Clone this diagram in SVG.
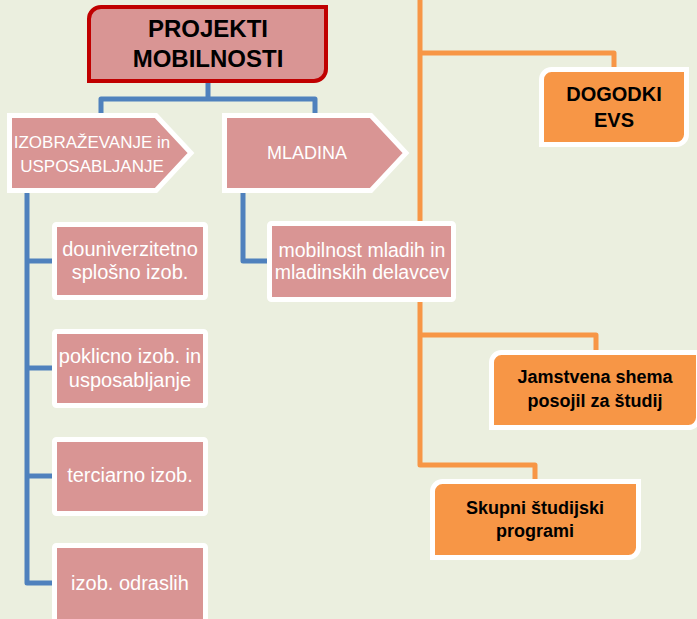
<svg xmlns="http://www.w3.org/2000/svg" width="697" height="619" viewBox="0 0 697 619">
<style>
.bg{fill:#EBEFDF}
.blue{fill:none;stroke:#4F81BD;stroke-width:5;stroke-linejoin:round}
.orange{fill:none;stroke:#F79646;stroke-width:5;stroke-linejoin:round}
.pink{fill:#D99594;stroke:#FFFFFF;stroke-width:5}
.onode{fill:#F79646;stroke:#FFFFFF;stroke-width:5}
.main{fill:#D99594;stroke:#C00000;stroke-width:4}
.wt{font-family:"Liberation Sans",Arial,sans-serif;fill:#FFFFFF;text-anchor:middle}
.bt{font-family:"Liberation Sans",Arial,sans-serif;fill:#000000;font-weight:bold;text-anchor:middle}
</style>
<rect class="bg" x="0" y="0" width="697" height="619"/>
<g id="connectors">
<path class="orange" d="M420,0 V465 H535 V481"/>
<path class="orange" d="M420,53 H614 V69"/>
<path class="orange" d="M420,335 H596 V352"/>
<path class="blue" d="M208,83 V99"/>
<path class="blue" d="M101,113 V99 H315 V113"/>
<path class="blue" d="M27,193 V583 H54"/>
<path class="blue" d="M27,261 H54"/>
<path class="blue" d="M27,368 H54"/>
<path class="blue" d="M27,476 H54"/>
<path class="blue" d="M243,193 V261 H270"/>
</g>
<g id="projekti">
<path class="main" d="M101,7 H326 V69 A12,12 0 0 1 314,81 H89 V19 A12,12 0 0 1 101,7 Z"/>
<text class="bt" x="208" y="37" font-size="24">PROJEKTI</text>
<text class="bt" x="208" y="67" font-size="24">MOBILNOSTI</text>
</g>
<g id="izobrazevanje">
<polygon class="pink" points="9.5,115.5 156,115.5 191,153 156,190.5 9.5,190.5"/>
<text class="wt" x="92" y="148" font-size="17">IZOBRAŽEVANJE in</text>
<text class="wt" x="92" y="172" font-size="17">USPOSABLJANJE</text>
</g>
<g id="mladina">
<polygon class="pink" points="224.5,115.5 371,115.5 406,153 371,190.5 224.5,190.5"/>
<text class="wt" x="307" y="159" font-size="18">MLADINA</text>
</g>
<g id="douniverzitetno">
<rect class="pink" x="54.5" y="224.5" width="151" height="73" rx="2"/>
<text class="wt" x="130" y="256" font-size="20">douniverzitetno</text>
<text class="wt" x="130" y="279" font-size="20">splošno izob.</text>
</g>
<g id="poklicno">
<rect class="pink" x="54.5" y="331.5" width="151" height="74" rx="2"/>
<text class="wt" x="130" y="363" font-size="20">poklicno izob. in</text>
<text class="wt" x="130" y="387" font-size="20">usposabljanje</text>
</g>
<g id="terciarno">
<rect class="pink" x="54.5" y="439.5" width="151" height="74" rx="2"/>
<text class="wt" x="130" y="482" font-size="20">terciarno izob.</text>
</g>
<g id="odraslih">
<rect class="pink" x="54.5" y="545.5" width="151" height="80" rx="2"/>
<text class="wt" x="130" y="590" font-size="20">izob. odraslih</text>
</g>
<g id="mobilnost">
<rect class="pink" x="269.5" y="223.5" width="184" height="76" rx="2"/>
<text class="wt" x="362" y="257" font-size="19.5">mobilnost mladih in</text>
<text class="wt" x="362" y="279" font-size="19.5">mladinskih delavcev</text>
</g>
<g id="dogodki">
<path class="onode" d="M551.5,69.5 H686.5 V134.5 A10,10 0 0 1 676.5,144.5 H541.5 V79.5 A10,10 0 0 1 551.5,69.5 Z"/>
<text class="bt" x="614" y="101" font-size="20">DOGODKI</text>
<text class="bt" x="614" y="127" font-size="20">EVS</text>
</g>
<g id="jamstvena">
<path class="onode" d="M501.5,352.5 H698.5 V417.5 A10,10 0 0 1 688.5,427.5 H491.5 V362.5 A10,10 0 0 1 501.5,352.5 Z"/>
<text class="bt" x="595" y="383" font-size="18">Jamstvena shema</text>
<text class="bt" x="595" y="407" font-size="18">posojil za študij</text>
</g>
<g id="skupni">
<path class="onode" d="M442.5,481.5 H638.5 V547.5 A10,10 0 0 1 628.5,557.5 H432.5 V491.5 A10,10 0 0 1 442.5,481.5 Z"/>
<text class="bt" x="535" y="514" font-size="18">Skupni študijski</text>
<text class="bt" x="535" y="537" font-size="18">programi</text>
</g>
</svg>
